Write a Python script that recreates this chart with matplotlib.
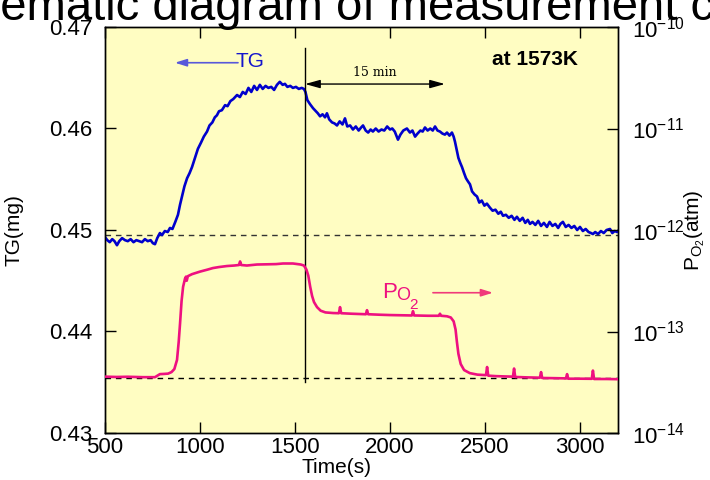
import numpy as np
import matplotlib
matplotlib.use("Agg")
import matplotlib.pyplot as plt
from matplotlib.ticker import FixedLocator, FuncFormatter, NullLocator

plt.rcParams['font.family'] = ['Liberation Sans', 'DejaVu Sans']
plt.rcParams['mathtext.fontset'] = 'custom'
plt.rcParams['mathtext.rm'] = 'Liberation Sans'
plt.rcParams['mathtext.it'] = 'Liberation Sans:italic'
plt.rcParams['mathtext.bf'] = 'Liberation Sans:bold'
plt.rcParams['axes.unicode_minus'] = False

# ---------------- data ----------------
tg_time = [500, 512, 525, 538, 550, 563, 575, 590, 605, 620, 635, 650, 665, 680, 695, 710, 725, 740, 752, 763,
           775, 789, 800, 815, 830, 842, 855, 870, 884, 895, 905, 918, 932, 945, 958, 972, 989, 1005, 1020, 1037,
           1050, 1065, 1078, 1089, 1100, 1115, 1132, 1145, 1160, 1175, 1195, 1210, 1225, 1240, 1255, 1270, 1285,
           1300, 1315, 1330, 1345, 1360, 1375, 1390, 1405, 1420, 1435, 1447, 1460, 1475, 1489, 1505, 1520, 1535,
           1547, 1555, 1565, 1579, 1595, 1610, 1620, 1632, 1645, 1658, 1668, 1680, 1695, 1708, 1721, 1735, 1750,
           1763, 1775, 1790, 1805, 1820, 1835, 1848, 1858, 1872, 1885, 1898, 1910, 1925, 1940, 1955, 1970, 1985,
           2000, 2012, 2025, 2042, 2055, 2070, 2089, 2105, 2118, 2132, 2145, 2160, 2172, 2184, 2198, 2212, 2225,
           2237, 2250, 2263, 2276, 2289, 2300, 2313, 2326, 2335, 2342, 2350, 2360, 2370, 2379, 2390, 2400, 2410,
           2421, 2432, 2445, 2458, 2470, 2483, 2497, 2510, 2526, 2540, 2555, 2570, 2583, 2595, 2610, 2625, 2640,
           2655, 2668, 2683, 2698, 2712, 2725, 2737, 2750, 2765, 2780, 2795, 2810, 2826, 2840, 2855, 2870, 2885,
           2897, 2910, 2925, 2940, 2955, 2970, 2985, 3000, 3015, 3030, 3045, 3058, 3068, 3080, 3095, 3110, 3125,
           3140, 3158, 3170, 3183, 3195, 3200]
tg_mg = [.4493, .4490, .4488, .4491, .4489, .4485, .4489, .4492, .4490, .4489, .4491, .4488, .4490, .4489, .4488,
         .4491, .4489, .4490, .4487, .4486, .4492, .4497, .4495, .4499, .4498, .4502, .4501, .4508, .4515, .4525,
         .4533, .4543, .4551, .4556, .4562, .4570, .4580, .4586, .4592, .4597, .4603, .4606, .4611, .4613, .4617,
         .4618, .4623, .4622, .4627, .4629, .4633, .4631, .4636, .4634, .4640, .4636, .4642, .4638, .4643, .4639,
         .4642, .4640, .4641, .4638, .4643, .4646, .4643, .4644, .4641, .4642, .4640, .4641, .4639, .4640, .4639,
         .4636, .4628, .4624, .4620, .4617, .4615, .4612, .4614, .4611, .4615, .4609, .4606, .4605, .4603, .4607,
         .4604, .4610, .4602, .4603, .4599, .4602, .4598, .4601, .4603, .4598, .4596, .4599, .4597, .4600, .4597,
         .4599, .4598, .4602, .4599, .4600, .4597, .4589, .4594, .4598, .4600, .4596, .4598, .4592, .4595, .4598,
         .4597, .4601, .4598, .4600, .4598, .4602, .4598, .4597, .4595, .4594, .4596, .4593, .4596, .4592, .4587,
         .4580, .4571, .4566, .4562, .4556, .4551, .4548, .4545, .4538, .4535, .4533, .4527, .4529, .4524, .4526,
         .4522, .4519, .4520, .4516, .4518, .4514, .4515, .4512, .4514, .4510, .4513, .4509, .4512, .4507, .4510,
         .4506, .4508, .4505, .4509, .4504, .4507, .4503, .4508, .4504, .4506, .4502, .4506, .4508, .4503, .4505,
         .4502, .4504, .4500, .4503, .4499, .4501, .4498, .4497, .4496, .4498, .4496, .4499, .4497, .4500, .4501,
         .4497, .4499, .4498, .4499]

po2_time = [500, 560, 620, 700, 763, 789, 810, 832, 850, 865, 879, 888, 895, 903, 911, 921, 926, 930, 936, 958,
            1000, 1040, 1068, 1100, 1142, 1180, 1205, 1211, 1217, 1247, 1300, 1353, 1400, 1437, 1489, 1530, 1547,
            1560, 1570, 1580, 1590, 1600, 1616, 1635, 1660, 1700, 1731, 1737, 1743, 1800, 1873, 1879, 1885, 1950,
            2000, 2115, 2121, 2127, 2200, 2257, 2263, 2269, 2300, 2320, 2335, 2345, 2352, 2360, 2372, 2390, 2420,
            2460, 2505, 2511, 2517, 2560, 2647, 2653, 2659, 2720, 2789, 2795, 2801, 2870, 2926, 2932, 2938, 3000,
            3062, 3068, 3074, 3140, 3200]
po2_log = [-13.445, -13.448, -13.446, -13.450, -13.450, -13.420, -13.418, -13.415, -13.400, -13.370, -13.280,
           -13.100, -12.920, -12.700, -12.560, -12.480, -12.460, -12.500, -12.455, -12.435, -12.410, -12.390,
           -12.375, -12.365, -12.355, -12.350, -12.345, -12.310, -12.345, -12.350, -12.340, -12.338, -12.336,
           -12.330, -12.330, -12.340, -12.350, -12.390, -12.450, -12.560, -12.650, -12.710, -12.760, -12.795,
           -12.812, -12.818, -12.820, -12.760, -12.820, -12.825, -12.830, -12.790, -12.830, -12.835, -12.838,
           -12.842, -12.800, -12.842, -12.845, -12.845, -12.825, -12.845, -12.850, -12.862, -12.900, -12.980,
           -13.100, -13.220, -13.320, -13.380, -13.410, -13.425, -13.430, -13.350, -13.435, -13.440, -13.445,
           -13.365, -13.448, -13.452, -13.455, -13.400, -13.458, -13.460, -13.462, -13.420, -13.465, -13.465,
           -13.466, -13.385, -13.468, -13.468, -13.470]

x_ticks = [500, 1000, 1500, 2000, 2500, 3000]
tg_ticks = [0.43, 0.44, 0.45, 0.46, 0.47]
po2_ticks = [1e-14, 1e-13, 1e-12, 1e-11, 1e-10]

tg_ref = 0.4495          # dashed reference level (TG)
po2_ref = 3.48e-14       # dashed reference level (PO2)
switch_time = 1553       # vertical marker
vline_tg = [0.43502, 0.46793]
span_time = [1553, 2289]  # "15 min" arrow
span_tg = 0.46438

# ---------------- figure ----------------
fig = plt.figure(figsize=(7.1, 4.8), dpi=100)
ax = fig.add_axes([105/710, 1-433/480, (618-105)/710, (433-27)/480])
ax.set_facecolor('#FFFDC2')
ax2 = ax.twinx()
ax2.patch.set_visible(False)

blue = '#0000CC'
pink = '#EE1080'

ax.plot(tg_time, tg_mg, color=blue, lw=1.9, zorder=3)
ax.axhline(tg_ref, color='#333333', lw=1.0, ls=(0, (4, 3.5)), zorder=2)
ax.plot([switch_time, switch_time], vline_tg, color='black', lw=1.0, zorder=4)

ax2.plot(po2_time, np.power(10.0, po2_log), color=pink, lw=1.9, zorder=3)
ax2.axhline(po2_ref, color='black', lw=1.0, ls=(0, (4, 3.5)), zorder=2)

ax.set_xlim(500, 3200)
ax.set_ylim(0.43, 0.47)
ax2.set_yscale('log')
ax2.set_ylim(1e-14, 1e-10)

ax.xaxis.set_major_locator(FixedLocator(x_ticks))
ax.yaxis.set_major_locator(FixedLocator(tg_ticks))
ax.yaxis.set_major_formatter(FuncFormatter(lambda v, p: f'{v:.2f}'))
ax2.yaxis.set_major_locator(FixedLocator(po2_ticks))
ax2.yaxis.set_minor_locator(NullLocator())
ax2.yaxis.set_major_formatter(FuncFormatter(
    lambda v, p: r'$\mathregular{10^{%d}}$' % int(round(np.log10(v)))))

ax.tick_params(axis='x', direction='in', length=8, width=1, labelsize=16, pad=3, top=True)
ax.tick_params(axis='y', direction='in', length=8, width=1, labelsize=16, pad=9)
ax2.tick_params(axis='y', direction='in', length=8, width=1, labelsize=16, pad=10)
for a in (ax, ax2):
    for s in a.spines.values():
        s.set_linewidth(1.0)

ax.set_xlabel('Time(s)', fontsize=15)
ax.xaxis.set_label_coords((336-105)/513, -0.062)
ax.set_ylabel('TG(mg)', fontsize=15)
ax.yaxis.set_label_coords(-0.158, 0.5)
ax2.set_ylabel(r'P$_{\mathrm{O}_2}$(atm)', fontsize=15)
ax2.yaxis.set_label_coords(1.125, 0.5)

# annotations
ax.annotate('', xy=(span_time[0], span_tg), xytext=(span_time[1], span_tg),
            arrowprops=dict(arrowstyle='<|-|>,head_length=0.9,head_width=0.25', color='black', lw=1.0,
                            shrinkA=0, shrinkB=0))
ax.text(1920, 0.46547, '15 min', fontsize=9, family='DejaVu Serif', ha='center', va='center')
ax.text(2763, 0.46675, 'at 1573K', fontsize=15, fontweight='bold', ha='center', va='center')

ax.annotate('', xy=(868, 0.46648), xytext=(1200, 0.46648),
            arrowprops=dict(arrowstyle='-|>,head_length=0.7,head_width=0.22', color='#5858DA', lw=1.2,
                            shrinkA=0, shrinkB=0))
ax.text(1188, 0.46660, 'TG', fontsize=15, color='#1515CC', ha='left', va='center')

# P_O2 label built from three pieces (P, O, 2)
po_x, po_y = 1958, 0.44330
ax.annotate('P', xy=(po_x, po_y), xytext=(0, 0), textcoords='offset points',
            fontsize=16, color=pink, ha='left', va='baseline')
ax.annotate('O', xy=(po_x, po_y), xytext=(10.5, -1.5), textcoords='offset points',
            fontsize=13, color=pink, ha='left', va='baseline')
ax.annotate('2', xy=(po_x, po_y), xytext=(19.5, -8), textcoords='offset points',
            fontsize=11, color=pink, ha='left', va='baseline')
ax.annotate('', xy=(2542, 0.44382), xytext=(2226, 0.44382),
            arrowprops=dict(arrowstyle='-|>,head_length=0.7,head_width=0.22', color='#F03A7A', lw=1.2,
                            shrinkA=0, shrinkB=0))

# clipped title at the very top
fig.text(-81/710, 1-20/480, 'Schematic diagram of measurement conditions', fontsize=34,
         ha='left', va='baseline')

fig.savefig('out.png', dpi=100)
